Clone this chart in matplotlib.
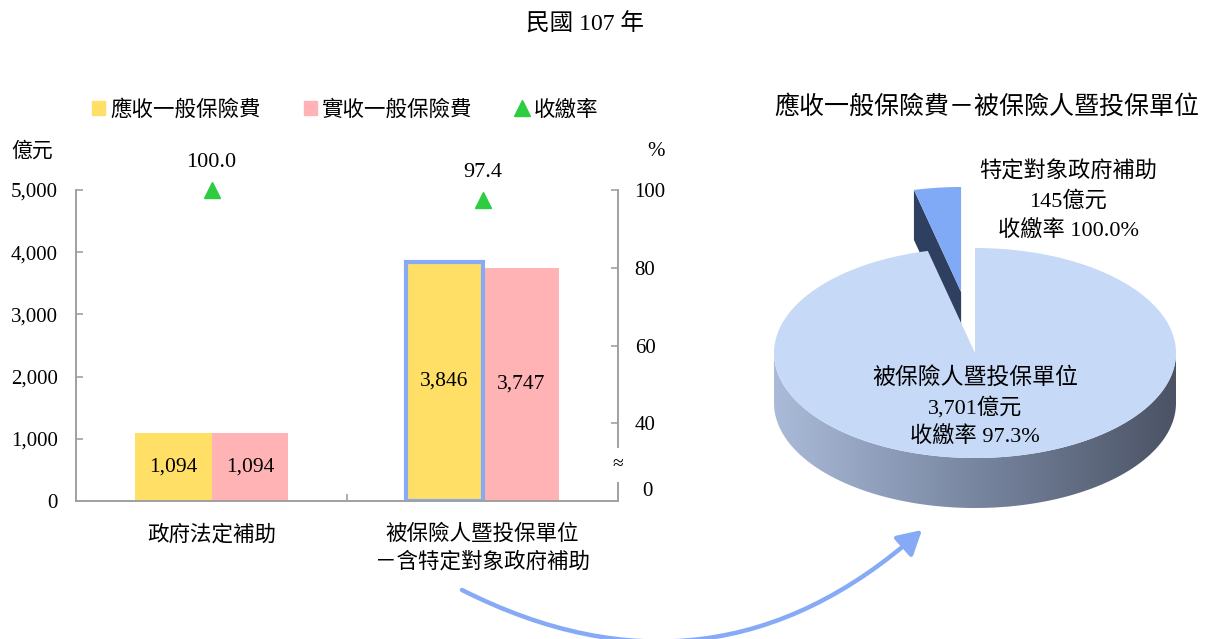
import matplotlib
matplotlib.use('Agg')
import matplotlib.pyplot as plt
import numpy as np
from matplotlib.patches import Polygon, Patch, FancyArrowPatch
from matplotlib.lines import Line2D
from matplotlib.colors import LinearSegmentedColormap
from matplotlib.ticker import FuncFormatter

FONT = ['Liberation Serif', 'Noto Sans CJK TC']
plt.rcParams['font.family'] = FONT

# ---------------- data ----------------
title = '民國 107 年'
categories = ['政府法定補助', '被保險人暨投保單位\n－含特定對象政府補助']
receivable = [1094, 3846]
received = [1094, 3747]
rate = [100.0, 97.4]
legend_labels = ['應收一般保險費', '實收一般保險費', '收繳率']
left_ticks = [0, 1000, 2000, 3000, 4000, 5000]
right_ticks = [40, 60, 80, 100]
left_unit = '億元'
right_unit = '%'

pie_title = '應收一般保險費－被保險人暨投保單位'
pie_labels = ['被保險人暨投保單位', '特定對象政府補助']
pie_values = [3701, 145]
pie_rates = [97.3, 100.0]

# ---------------- styles ----------------
C_YEL = '#ffdf66'
C_PINK = '#ffb3b4'
C_GREEN = '#2ecc40'
C_HIGHLIGHT = '#86aaf5'
C_AXIS = '#a0a0a0'
FS_CJK = 16
FS_NUM = 15

W, H = 1217, 639
fig = plt.figure(figsize=(W / 100, H / 100), dpi=100)

# overlay axes in pixel coordinates
ov = fig.add_axes([0, 0, 1, 1])
ov.axis('off')

# ---------------- bar chart ----------------
ax = fig.add_axes([76 / W, 1 - 501 / H, (618 - 76) / W, (501 - 190) / H])
ax.set_facecolor('none')
x = np.arange(len(categories))
bw = 0.284
b1 = ax.bar(x - bw / 2, receivable, bw, color=C_YEL, zorder=2)
b2 = ax.bar(x + bw / 2, received, bw, color=C_PINK, zorder=2)
b1[1].set_edgecolor(C_HIGHLIGHT)
b1[1].set_linewidth(3)
b1[1].set_zorder(3)
for bars in (b1, b2):
    ax.bar_label(bars, labels=[f'{v:,.0f}' for v in bars.datavalues],
                 label_type='center', fontsize=FS_NUM + 0.5, zorder=4)

ax.set_xlim(-0.5, 1.5)
ax.set_ylim(0, 5000)
ax.set_yticks(left_ticks)
ax.yaxis.set_major_formatter(FuncFormatter(lambda v, p: f'{v:,.0f}'))
ax.set_xticks(x)
ax.set_xticklabels(categories, fontsize=FS_CJK - 0.5, linespacing=1.45)
ax.set_xticks([0.5], minor=True)
ax.tick_params(axis='x', which='major', length=0, pad=17)
ax.tick_params(axis='x', which='minor', length=5, direction='in', color=C_AXIS, width=1.2)
ax.tick_params(axis='y', length=5, direction='in', color=C_AXIS, width=1.2,
               labelsize=FS_NUM, pad=13)
for s in ['left', 'bottom', 'right']:
    ax.spines[s].set_color(C_AXIS)
    ax.spines[s].set_linewidth(1.2)
ax.spines['top'].set_visible(False)

ax2 = ax.twinx()
ax2.set_ylim(20, 100)
ax2.set_yticks(right_ticks)
ax2.tick_params(axis='y', length=5, direction='in', color=C_AXIS, width=1.2,
                labelsize=FS_NUM, pad=12)
for s in ['left', 'bottom', 'right']:
    ax2.spines[s].set_color(C_AXIS)
    ax2.spines[s].set_linewidth(1.2)
ax2.spines['top'].set_visible(False)
ax2.plot(x, rate, ls='none', marker='^', color=C_GREEN, ms=11, clip_on=False, zorder=5)
for xi, r in zip(x, rate):
    ax2.annotate(f'{r:.1f}', xy=(xi, r), xytext=(0, 20), textcoords='offset points',
                 ha='center', va='center', fontsize=FS_NUM + 1)
ax2.annotate('0', xy=(1, 20), xycoords=('axes fraction', 'data'), xytext=(21, 7),
             textcoords='offset points', ha='center', va='center', fontsize=FS_NUM)
fig.text(618 / W, 1 - 465 / H, '≈', ha='center', va='center', fontsize=14, zorder=10,
         bbox=dict(boxstyle='square,pad=0.45', fc='white', ec='none'))

fig.text(32 / W, 1 - 152 / H, left_unit, ha='center', va='center', fontsize=FS_CJK - 1)
fig.text(656 / W, 1 - 152 / H, right_unit, ha='center', va='center', fontsize=FS_NUM)
fig.text(585 / W, 1 - 25 / H, title, ha='center', va='center', fontsize=17)

handles = [Patch(color=C_YEL), Patch(color=C_PINK),
           Line2D([], [], ls='none', marker='^', color=C_GREEN, ms=11)]
fig.legend(handles, legend_labels, loc='center', bbox_to_anchor=(345 / W, 1 - 110 / H),
           ncol=3, frameon=False, fontsize=FS_CJK - 0.5, handlelength=0.6, handleheight=0.6,
           handletextpad=0.25, columnspacing=2.0)

# ---------------- 3D pie ----------------
cx, cy, rx, ry, depth = 975, 353, 201, 105, 50
total = sum(pie_values)
ang_small = 360 * pie_values[1] / total
a0 = 90
a1 = a0 + ang_small


def ell(angles, dx=0.0, dy=0.0, dz=0.0):
    t = np.radians(angles)
    return np.column_stack([cx + dx + rx * np.cos(t), cy + dy + dz - ry * np.sin(t)])


mid = np.radians((a0 + a1) / 2)
e = 0.585
odx, ody = e * rx * np.cos(mid), -e * ry * np.sin(mid)
apex = np.array([cx + odx, cy + ody])
outer = ell([a1], odx, ody)[0]
face = np.array([apex, outer, outer + [0, depth], apex + [0, depth]])
ov.add_patch(Polygon(face, closed=True, fc='#2f3f5f', ec='none', zorder=1))
arc_s = ell(np.linspace(a0, a1, 40), odx, ody)
ov.add_patch(Polygon(np.vstack([apex, arc_s]), closed=True, fc='#80aaf5', ec='none', zorder=1.1))

front = np.linspace(180, 360, 300)
side = Polygon(np.vstack([ell(front), ell(front[::-1], dz=depth)]), closed=True,
               fc='none', ec='none')
ov.add_patch(side)
grad = np.linspace(0, 1, 256).reshape(1, -1)
cmap = LinearSegmentedColormap.from_list('side', ['#aabbd9', '#7886a0', '#4b5365'])
im = ov.imshow(grad, extent=[cx - rx, cx + rx, cy + ry + depth, cy - 5], cmap=cmap,
               aspect='auto', zorder=1.5, interpolation='bilinear')
im.set_clip_path(side)
arc_m = ell(np.linspace(a1, 450, 400))
ov.add_patch(Polygon(np.vstack([[cx, cy], arc_m]), closed=True, fc='#c6d9f7', ec='none', zorder=2))

ov.text(987, 107, pie_title, ha='center', va='center', fontsize=18)
ov.text(1068, 172, pie_labels[1], ha='center', va='center', fontsize=FS_CJK, zorder=5)
ov.text(1068, 201, f'{pie_values[1]:,}億元', ha='center', va='center', fontsize=FS_CJK, zorder=5)
ov.text(1068, 231, f'收繳率 {pie_rates[1]:.1f}%', ha='center', va='center', fontsize=FS_CJK, zorder=5)
ov.text(975, 378, pie_labels[0], ha='center', va='center', fontsize=FS_CJK + 0.5, zorder=5)
ov.text(975, 408, f'{pie_values[0]:,}億元', ha='center', va='center', fontsize=FS_CJK, zorder=5)
ov.text(975, 437, f'收繳率 {pie_rates[0]:.1f}%', ha='center', va='center', fontsize=FS_CJK, zorder=5)

arr = FancyArrowPatch((462, 590), (922, 530), connectionstyle='arc3,rad=0.34',
                      arrowstyle='-|>,head_length=0.8,head_width=0.45', mutation_scale=18,
                      lw=3.2, color=C_HIGHLIGHT, shrinkA=0, shrinkB=0, clip_on=False, zorder=3)
ov.add_patch(arr)

ov.set_xlim(0, W)
ov.set_ylim(H, 0)

fig.savefig('out.png', dpi=100)
